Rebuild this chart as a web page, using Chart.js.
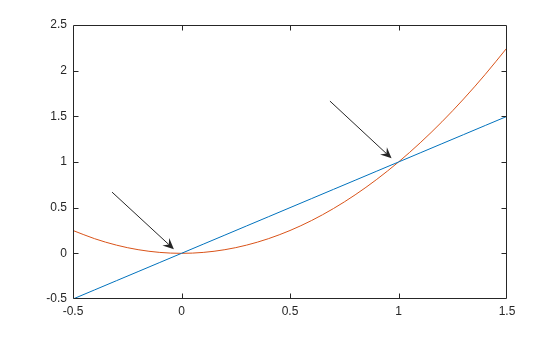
<!DOCTYPE html>
<html>
<head>
<meta charset="utf-8">
<script src="https://cdn.jsdelivr.net/npm/chart.js@4/dist/chart.umd.min.js"></script>
<style>
  body { margin: 0; background: #fff; }
  canvas { display: block; }
</style>
</head>
<body>
<canvas id="plot" width="560" height="337"></canvas>
<script>
// values
const xValues = [-0.5, -0.4, -0.3, -0.2, -0.1, 0, 0.1, 0.2, 0.3, 0.4, 0.5, 0.6, 0.7, 0.8, 0.9, 1.0, 1.1, 1.2, 1.3, 1.4, 1.5];
const lineValues = [-0.5, -0.4, -0.3, -0.2, -0.1, 0, 0.1, 0.2, 0.3, 0.4, 0.5, 0.6, 0.7, 0.8, 0.9, 1.0, 1.1, 1.2, 1.3, 1.4, 1.5];
const curveValues = [0.25, 0.16, 0.09, 0.04, 0.01, 0, 0.01, 0.04, 0.09, 0.16, 0.25, 0.36, 0.49, 0.64, 0.81, 1.0, 1.21, 1.44, 1.69, 1.96, 2.25];
const xTicks = [-0.5, 0, 0.5, 1, 1.5];
const yTicks = [-0.5, 0, 0.5, 1, 1.5, 2, 2.5];

// annotation arrows (data units): tail -> head
const arrowTailX = [-0.32, 0.684];
const arrowTailY = [0.67, 1.667];
const arrowHeadX = [-0.035, 0.968];
const arrowHeadY = [0.045, 1.04];

const axisColor = '#262626';
const tickFont = { family: 'Liberation Sans, Arial, sans-serif', size: 12 };

function toPoints(xs, ys) {
    return xs.map((x, i) => ({ x: x, y: ys[i] }));
}

// box, inward ticks and arrows
const matlabAxes = {
    id: 'matlabAxes',
    afterDatasetsDraw(chart) {
        const ctx = chart.ctx;
        const a = chart.chartArea;
        const xs = chart.scales.x;
        const ys = chart.scales.y;
        const L = Math.round(a.left) + 0.5, R = Math.round(a.right) - 0.5;
        const T = Math.round(a.top) + 0.5, B = Math.round(a.bottom) - 0.5;
        ctx.save();
        ctx.strokeStyle = axisColor;
        ctx.lineWidth = 1;
        ctx.beginPath();
        ctx.rect(L, T, R - L, B - T);
        xTicks.slice(1, -1).forEach(v => {
            const px = Math.round(xs.getPixelForValue(v)) + 0.5;
            ctx.moveTo(px, B); ctx.lineTo(px, B - 5);
            ctx.moveTo(px, T); ctx.lineTo(px, T + 5);
        });
        yTicks.slice(1, -1).forEach(v => {
            const py = Math.round(ys.getPixelForValue(v)) + 0.5;
            ctx.moveTo(L, py); ctx.lineTo(L + 5, py);
            ctx.moveTo(R, py); ctx.lineTo(R - 5, py);
        });
        ctx.stroke();

        // arrows
        for (let i = 0; i < arrowTailX.length; i++) {
            const x1 = xs.getPixelForValue(arrowTailX[i]);
            const y1 = ys.getPixelForValue(arrowTailY[i]);
            const x2 = xs.getPixelForValue(arrowHeadX[i]);
            const y2 = ys.getPixelForValue(arrowHeadY[i]);
            const ang = Math.atan2(y2 - y1, x2 - x1);
            const c = Math.cos(ang), s = Math.sin(ang);
            const len = 11, half = 5, notch = 7;
            ctx.beginPath();
            ctx.moveTo(x1, y1);
            ctx.lineTo(x2 - c * notch, y2 - s * notch);
            ctx.stroke();
            ctx.beginPath();
            ctx.moveTo(x2, y2);
            ctx.lineTo(x2 - c * len - s * half, y2 - s * len + c * half);
            ctx.lineTo(x2 - c * notch, y2 - s * notch);
            ctx.lineTo(x2 - c * len + s * half, y2 - s * len - c * half);
            ctx.closePath();
            ctx.fillStyle = axisColor;
            ctx.fill();
        }
        ctx.restore();
    }
};

document.addEventListener('DOMContentLoaded', function() {
    const ctx = document.getElementById('plot').getContext('2d');
    new Chart(ctx, {
        type: 'line',
        data: {
            datasets: [{
                data: toPoints(xValues, lineValues),
                borderColor: '#0072BD',
                borderWidth: 1,
                pointRadius: 0,
                tension: 0
            }, {
                data: toPoints(xValues, curveValues),
                borderColor: '#D95319',
                borderWidth: 1,
                pointRadius: 0,
                cubicInterpolationMode: 'monotone'
            }]
        },
        options: {
            responsive: false,
            animation: false,
            events: [],
            layout: { padding: { left: 0, top: 25, right: 53, bottom: 0 } },
            plugins: {
                legend: { display: false },
                tooltip: { enabled: false }
            },
            scales: {
                x: {
                    type: 'linear',
                    min: -0.5,
                    max: 1.5,
                    afterFit: s => { s.height = 38; },
                    afterBuildTicks: s => { s.ticks = xTicks.map(v => ({ value: v })); },
                    grid: { display: false, drawTicks: false },
                    border: { display: false },
                    ticks: {
                        padding: 5,
                        maxRotation: 0,
                        color: axisColor,
                        font: tickFont,
                        callback: v => String(v)
                    }
                },
                y: {
                    type: 'linear',
                    min: -0.5,
                    max: 2.5,
                    afterFit: s => { s.width = 73; },
                    afterBuildTicks: s => { s.ticks = yTicks.map(v => ({ value: v })); },
                    grid: { display: false, drawTicks: false },
                    border: { display: false },
                    ticks: {
                        padding: 6,
                        color: axisColor,
                        font: tickFont,
                        callback: v => String(v)
                    }
                }
            }
        },
        plugins: [matlabAxes]
    });
});
</script>
</body>
</html>
